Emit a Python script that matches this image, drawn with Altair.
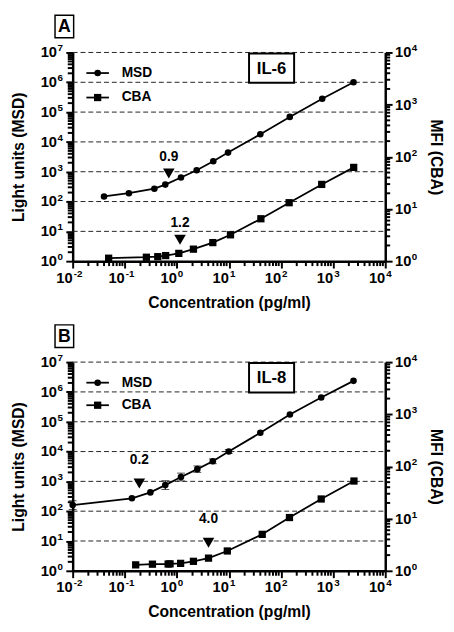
import altair as alt
import pandas as pd

FONT = "Liberation Sans"
W, H = 319, 213

# ---- tick labels ----
X_TICKS = [0.01, 0.1, 1, 10, 100, 1000, 10000]
X_EXPS = ["-2", "-1", "0", "1", "2", "3", "4"]
YL_TICKS = [1, 10, 100, 1e3, 1e4, 1e5, 1e6, 1e7]
YL_EXPS = ["0", "1", "2", "3", "4", "5", "6", "7"]
YR_TICKS = [1, 10, 100, 1e3, 1e4]
YR_EXPS = ["0", "1", "2", "3", "4"]

# ---- Panel A : IL-6 ----
A_MSD_X = [0.04, 0.12, 0.37, 0.6, 1.2, 2.4, 5.0, 9.6, 40, 147, 617, 2460]
A_MSD_Y = [148, 190, 270, 370, 640, 1120, 2260, 4380, 18000, 69000, 282000, 1.0e6]
A_MSD_ERR = [0] * 12
A_CBA_X = [0.049, 0.26, 0.43, 0.61, 1.09, 2.08, 4.9, 10.7, 41, 143, 603, 2480]
A_CBA_Y = [1.14, 1.19, 1.22, 1.28, 1.41, 1.70, 2.27, 3.2, 6.5, 13.2, 29.6, 62.7]
A_ARROW_X = [0.7, 1.15]
A_ARROW_Y = [870, 5.2]
A_ARROW_LABEL = ["0.9", "1.2"]
A_ARROW_DY = [-16, -19]

# ---- Panel B : IL-8 ----
B_MSD_X = [0.01, 0.137, 0.31, 0.6, 1.2, 2.47, 4.9, 9.9, 40, 148, 590, 2460]
B_MSD_Y = [160, 270, 427, 750, 1400, 2570, 4700, 10000, 42500, 174000, 650000, 2.35e6]
B_MSD_ERR = [0.4, 0, 0, 0.4, 0.35, 0.28, 0.2, 0.16, 0, 0, 0, 0]
B_CBA_X = [0.162, 0.34, 0.68, 0.74, 1.18, 2.08, 4.05, 9.3, 43.5, 145, 590, 2510]
B_CBA_Y = [1.30, 1.34, 1.35, 1.36, 1.39, 1.52, 1.75, 2.4, 5.0, 10.5, 23.8, 52.6]
B_ARROW_X = [0.19, 4.05]
B_ARROW_Y = [850, 8.8]
B_ARROW_LABEL = ["0.2", "4.0"]
B_ARROW_DY = [-25, -23]


def minors(lo_exp, hi_exp):
    return [m * 10.0 ** e for e in range(lo_exp, hi_exp) for m in range(2, 10)]


def panel(letter, name, msd_x, msd_y, msd_err, cba_x, cba_y,
          ar_x, ar_y, ar_lab, ar_dy, leg_y2):
    xs = alt.Scale(type="log", domain=[0.01, 1e4], nice=False)
    yl = alt.Scale(type="log", domain=[1, 1e7], nice=False)
    yr = alt.Scale(type="log", domain=[1, 1e4], nice=False)

    common = dict(labels=False, tickSize=7, tickWidth=2, tickColor="black",
                  domainColor="black", domainWidth=2.5, grid=False,
                  titleFont=FONT, titleFontSize=16, titleFontWeight="bold",
                  titleColor="black")
    xaxis = alt.Axis(values=X_TICKS, title="Concentration (pg/ml)",
                     titlePadding=26, **common)
    laxis = alt.Axis(values=YL_TICKS, title="Light units (MSD)",
                     titlePadding=39, **common)
    raxis = alt.Axis(values=YR_TICKS, title="MFI (CBA)", orient="right",
                     titlePadding=35, **common)

    X = lambda f: alt.X(f, type="quantitative", scale=xs, axis=xaxis)
    YL = lambda f: alt.Y(f, type="quantitative", scale=yl, axis=laxis)
    YR = lambda f: alt.Y(f, type="quantitative", scale=yr, axis=raxis)

    msd = pd.DataFrame({"x": msd_x, "y": msd_y, "e": msd_err})
    msd["lo"] = msd["y"] / (1 + msd["e"])
    msd["hi"] = msd["y"] * (1 + msd["e"])
    err = msd[msd["e"] > 0]
    cba = pd.DataFrame({"x": cba_x, "y": cba_y})
    arr = pd.DataFrame({"x": ar_x, "y": ar_y, "t": ar_lab, "dy": ar_dy})

    grid = pd.DataFrame({"v": YL_TICKS[1:]})
    lmin = pd.DataFrame({"v": minors(0, 7)})
    rmin = pd.DataFrame({"v": minors(0, 4)})
    xmin = pd.DataFrame({"v": minors(-2, 4)})
    xlab = pd.DataFrame({"v": X_TICKS, "e": X_EXPS})
    llab = pd.DataFrame({"v": YL_TICKS, "e": YL_EXPS})
    rlab = pd.DataFrame({"v": YR_TICKS, "e": YR_EXPS})
    one = pd.DataFrame({"a": [0]})

    txt = dict(font=FONT, fontWeight="bold", color="black")

    left_layers = [
        alt.Chart(grid).mark_rule(color="#222", strokeWidth=1, strokeDash=[5, 3])
        .encode(y=YL("v"), x=alt.value(0), x2=alt.value(W)),
        alt.Chart(lmin).mark_rule(color="black", strokeWidth=2)
        .encode(y=YL("v"), x=alt.value(-5), x2=alt.value(0)),
        alt.Chart(llab).mark_text(align="right", baseline="middle", fontSize=15, **txt)
        .encode(y=YL("v"), x=alt.value(-16), text=alt.value("10")),
        alt.Chart(llab).mark_text(align="left", baseline="middle", fontSize=10, dy=-4, **txt)
        .encode(y=YL("v"), x=alt.value(-15.5), text="e:N"),
        alt.Chart(xmin).mark_rule(color="black", strokeWidth=2)
        .encode(x=X("v"), y=alt.value(H), y2=alt.value(H + 5)),
        alt.Chart(xlab).mark_text(align="right", baseline="middle", fontSize=15, **txt)
        .encode(x=X("v"), y=alt.value(H + 17), text=alt.value("10")),
        alt.Chart(xlab).mark_text(align="left", baseline="middle", fontSize=10, dx=1, **txt)
        .encode(x=X("v"), y=alt.value(H + 13), text="e:N"),
        alt.Chart(msd).mark_line(color="black", strokeWidth=1.8)
        .encode(x=X("x"), y=YL("y")),
        alt.Chart(msd).mark_point(shape="circle", filled=True, size=45, color="black", opacity=1)
        .encode(x=X("x"), y=YL("y")),
        alt.Chart(arr).mark_point(shape="triangle-down", filled=True, size=140,
                                  color="black", opacity=1)
        .encode(x=X("x"), y=YL("y")),
        alt.Chart(arr).transform_filter("datum.dy < -20").mark_text(fontSize=14, dy=-24, **txt)
        .encode(x=X("x"), y=YL("y"), text="t:N"),
        alt.Chart(arr).transform_filter("datum.dy >= -20").mark_text(fontSize=14, dy=-17, **txt)
        .encode(x=X("x"), y=YL("y"), text="t:N"),
        # legend
        alt.Chart(one).mark_rule(color="black", strokeWidth=1.8)
        .encode(x=alt.value(14), x2=alt.value(37), y=alt.value(21)),
        alt.Chart(one).mark_point(shape="circle", filled=True, size=45, color="black", opacity=1)
        .encode(x=alt.value(25.5), y=alt.value(21)),
        alt.Chart(one).mark_text(align="left", baseline="middle", fontSize=14, text="MSD", **txt)
        .encode(x=alt.value(50), y=alt.value(21)),
        alt.Chart(one).mark_rule(color="black", strokeWidth=1.8)
        .encode(x=alt.value(14), x2=alt.value(37), y=alt.value(leg_y2)),
        alt.Chart(one).mark_point(shape="square", filled=True, size=55, color="black", opacity=1)
        .encode(x=alt.value(25.5), y=alt.value(leg_y2)),
        alt.Chart(one).mark_text(align="left", baseline="middle", fontSize=14, text="CBA", **txt)
        .encode(x=alt.value(50), y=alt.value(leg_y2)),
        # analyte box
        alt.Chart(one).mark_rect(fill="white", stroke="black", strokeWidth=2)
        .encode(x=alt.value(180), x2=alt.value(226), y=alt.value(1), y2=alt.value(31)),
        alt.Chart(one).mark_text(align="center", baseline="middle", fontSize=17, text=name, **txt)
        .encode(x=alt.value(203), y=alt.value(16.5)),
        # panel letter box
        alt.Chart(one).mark_rect(fill="white", stroke="black", strokeWidth=1.5)
        .encode(x=alt.value(-18), x2=alt.value(1), y=alt.value(-38), y2=alt.value(-15)),
        alt.Chart(one).mark_text(align="center", baseline="middle", fontSize=18, text=letter, **txt)
        .encode(x=alt.value(-8.5), y=alt.value(-26)),
    ]
    if len(err):
        left_layers.insert(7, alt.Chart(err).mark_errorbar(
            ticks=alt.MarkConfig(size=8, strokeWidth=1.5), color="black")
            .encode(x=X("x"), y=YL("lo"), y2="hi"))

    right_layers = [
        alt.Chart(rmin).mark_rule(color="black", strokeWidth=2)
        .encode(y=YR("v"), x=alt.value(W), x2=alt.value(W + 5)),
        alt.Chart(rlab).mark_text(align="left", baseline="middle", fontSize=15, **txt)
        .encode(y=YR("v"), x=alt.value(W + 10), text=alt.value("10")),
        alt.Chart(rlab).mark_text(align="left", baseline="middle", fontSize=10, dy=-4, **txt)
        .encode(y=YR("v"), x=alt.value(W + 27), text="e:N"),
        alt.Chart(cba).mark_line(color="black", strokeWidth=1.8)
        .encode(x=X("x"), y=YR("y")),
        alt.Chart(cba).mark_point(shape="square", filled=True, size=55, color="black", opacity=1)
        .encode(x=X("x"), y=YR("y")),
    ]

    return alt.layer(alt.layer(*left_layers), alt.layer(*right_layers)).resolve_scale(
        y="independent").properties(width=W, height=H)


pa = panel("A", "IL-6", A_MSD_X, A_MSD_Y, A_MSD_ERR, A_CBA_X, A_CBA_Y,
           A_ARROW_X, A_ARROW_Y, A_ARROW_LABEL, A_ARROW_DY, 46)
pb = panel("B", "IL-8", B_MSD_X, B_MSD_Y, B_MSD_ERR, B_CBA_X, B_CBA_Y,
           B_ARROW_X, B_ARROW_Y, B_ARROW_LABEL, B_ARROW_DY, 44)

chart = alt.vconcat(pa, pb, spacing=14).properties(
    padding={"left": 3, "top": 0, "right": 3, "bottom": 3},
    background="white",
).configure_view(stroke=None)

chart.save("out.html", embed_options={"renderer": "svg", "actions": False})
